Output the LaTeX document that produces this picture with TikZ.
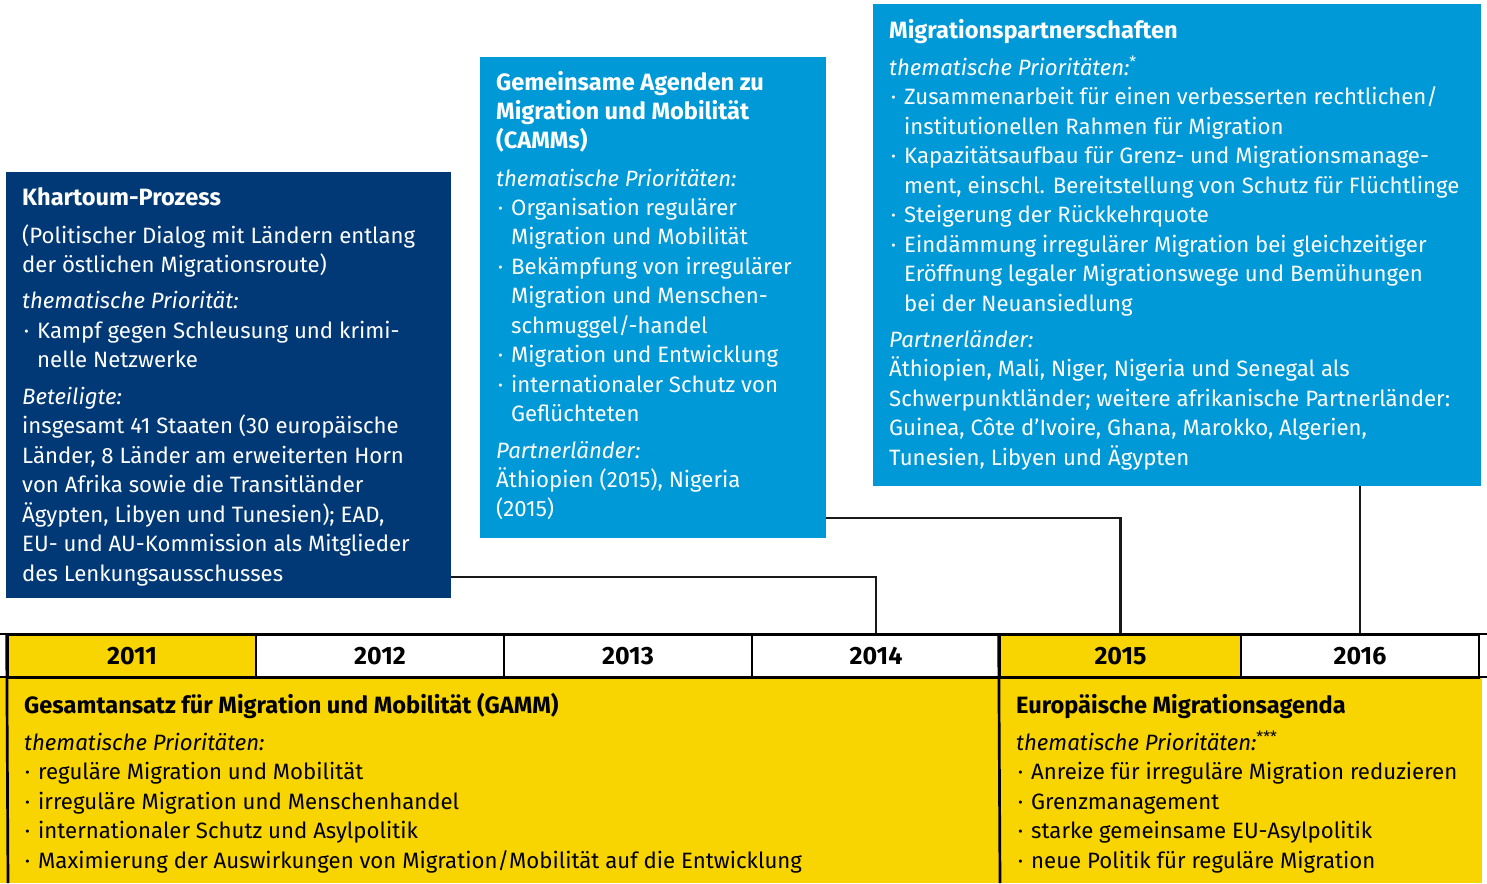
\documentclass[tikz,border=0pt]{standalone}
\usepackage{fontspec}
\setmainfont{Fira Sans}
\definecolor{dblue}{RGB}{0,57,118}
\definecolor{lblue}{RGB}{0,153,216}
\definecolor{gyellow}{RGB}{248,212,0}
\newcommand\bul{\makebox[0pt][r]{·\hspace{8pt}}}
\newcommand\regf{\fontsize{22.2}{26}\selectfont}
\newcommand\boldf{\fontsize{23.6}{28}\selectfont\bfseries}
\tikzset{
  panel/.style={anchor=north west, inner sep=0pt, outer sep=0pt},
  tw/.style={anchor=base west, inner sep=0pt, text=white, font=\regf},
  tb/.style={anchor=base west, inner sep=0pt, text=black, font=\regf},
  hd/.style={font=\boldf},
  it/.style={font=\regf\itshape},
  cell/.style={draw=black, line width=2.7pt, minimum width=248pt, minimum height=43pt, inner sep=0pt, font=\fontsize{25}{28}\selectfont\bfseries, text=black},
  conn/.style={draw=black!90, line width=2.6pt},
  tline/.style={draw=black, line width=2.7pt},
}
\begin{document}
\begin{tikzpicture}[x=1pt,y=-1pt]
\useasboundingbox (0,0) rectangle (1487,883);
% panels
\node[panel, fill=dblue, minimum width=445pt, minimum height=426pt] (khart) at (6,172) {};
\node[panel, fill=lblue, minimum width=346pt, minimum height=481pt] (camm) at (480,57) {};
\node[panel, fill=lblue, minimum width=608pt, minimum height=482pt] (mp) at (873,4) {};
\node[panel, fill=gyellow, minimum width=1000pt, minimum height=206pt] (gamm) at (0,677) {};
\node[panel, fill=gyellow, minimum width=482pt, minimum height=206pt] (eur) at (1000,677) {};
% year cells
\node[cell, fill=gyellow, minimum width=248pt] (c2011) at (132,656) {2011};
\node[cell, fill=white] (c2012) at (380,656) {2012};
\node[cell, fill=white] (c2013) at (628,656) {2013};
\node[cell, fill=white] (c2014) at (876,656) {2014};
\node[cell, fill=gyellow, minimum width=241pt] (c2015) at (1120.5,656) {2015};
\node[cell, fill=white, minimum width=238pt] (c2016) at (1360,656) {2016};
\draw[tline] (0,634) -- (1487,634);
\draw[tline] (0,677) -- (1487,677);
\draw[tline] (c2011.north west) -- (8,883);
\draw[tline] (c2015.north west) -- (1000,883);
% connectors
\draw[conn] (khart.south east) ++(0,-21) -| (c2014.north);
\draw[conn] (camm.south east) ++(0,-20) -| (c2015.north);
\draw[conn] (c2016.north |- mp.south) -- (c2016.north);
% Khartoum text
\node[tw, hd] (k1) at (22,205) {Khartoum-Prozess};
\node[tw] (k2) at (22,243) {(Politischer Dialog mit Ländern entlang};
\node[tw] (k3) at (22,272.5) {der östlichen Migrationsroute)};
\node[tw, it] (k4) at (22,308) {thematische Priorität:};
\node[tw] (k5) at (37,338) {\bul Kampf gegen Schleusung und krimi-};
\node[tw] (k6) at (37,367.5) {nelle Netzwerke};
\node[tw, it] (k7) at (22,404) {Beteiligte:};
\node[tw] (k8) at (22,433.5) {insgesamt 41 Staaten (30 europäische};
\node[tw] (k9) at (22,463) {Länder, 8 Länder am erweiterten Horn};
\node[tw] (k10) at (22,492.5) {von Afrika sowie die Transitländer};
\node[tw] (k11) at (22,522) {Ägypten, Libyen und Tunesien); EAD,};
\node[tw] (k12) at (22,551.5) {EU- und AU-Kommission als Mitglieder};
\node[tw] (k13) at (22,581) {des Lenkungsausschusses};
% CAMM text
\node[tw, hd] (a1) at (496,90) {Gemeinsame Agenden zu};
\node[tw, hd] (a2) at (496,119) {Migration und Mobilität};
\node[tw, hd] (a3) at (496,148) {(CAMMs)};
\node[tw, it] (a4) at (496,186) {thematische Prioritäten:};
\node[tw] (a5) at (511,215) {\bul Organisation regulärer};
\node[tw] (a6) at (511,244.5) {Migration und Mobilität};
\node[tw] (a7) at (511,274) {\bul Bekämpfung von irregulärer};
\node[tw] (a8) at (511,303.5) {Migration und Menschen-};
\node[tw] (a9) at (511,333) {schmuggel/-handel};
\node[tw] (a10) at (511,362.5) {\bul Migration und Entwicklung};
\node[tw] (a11) at (511,392) {\bul internationaler Schutz von};
\node[tw] (a12) at (511,421.5) {Geflüchteten};
\node[tw, it] (a13) at (496,458) {Partnerländer:};
\node[tw] (a14) at (496,487) {Äthiopien (2015), Nigeria};
\node[tw] (a15) at (496,516.5) {(2015)};
% MP text
\node[tw, hd] (m1) at (889,38) {Migrationspartnerschaften};
\node[tw, it] (m2) at (889,75) {thematische Prioritäten:\textsuperscript{\upshape *}};
\node[tw] (m3) at (904,104.5) {\bul Zusammenarbeit für einen verbesserten rechtlichen/};
\node[tw] (m4) at (904,134) {institutionellen Rahmen für Migration};
\node[tw] (m5) at (904,163.5) {\bul Kapazitätsaufbau für Grenz- und Migrationsmanage-};
\node[tw] (m6) at (904,193) {ment, einschl. Bereitstellung von Schutz für Flüchtlinge};
\node[tw] (m7) at (904,222.5) {\bul Steigerung der Rückkehrquote};
\node[tw] (m8) at (904,252) {\bul Eindämmung irregulärer Migration bei gleichzeitiger};
\node[tw] (m9) at (904,281.5) {Eröffnung legaler Migrationswege und Bemühungen};
\node[tw] (m10) at (904,311) {bei der Neuansiedlung};
\node[tw, it] (m11) at (889,347) {Partnerländer:};
\node[tw] (m12) at (889,376.5) {Äthiopien, Mali, Niger, Nigeria und Senegal als};
\node[tw] (m13) at (889,406) {Schwerpunktländer; weitere afrikanische Partnerländer:};
\node[tw] (m14) at (889,435.5) {Guinea, Côte d’Ivoire, Ghana, Marokko, Algerien,};
\node[tw] (m15) at (889,465) {Tunesien, Libyen und Ägypten};
% GAMM text
\node[tb, hd] (g1) at (24,713.5) {Gesamtansatz für Migration und Mobilität (GAMM)};
\node[tb, it] (g2) at (24,750) {thematische Prioritäten:};
\node[tb] (g3) at (38,779.5) {\bul reguläre Migration und Mobilität};
\node[tb] (g4) at (38,809) {\bul irreguläre Migration und Menschenhandel};
\node[tb] (g5) at (38,838.5) {\bul internationaler Schutz und Asylpolitik};
\node[tb] (g6) at (38,868) {\bul Maximierung der Auswirkungen von Migration/Mobilität auf die Entwicklung};
% Europe text
\node[tb, hd] (e1) at (1016,713.5) {Europäische Migrationsagenda};
\node[tb, it] (e2) at (1016,750) {thematische Prioritäten:\textsuperscript{\upshape ***}};
\node[tb] (e3) at (1031,779.5) {\bul Anreize für irreguläre Migration reduzieren};
\node[tb] (e4) at (1031,809) {\bul Grenzmanagement};
\node[tb] (e5) at (1031,838.5) {\bul starke gemeinsame EU-Asylpolitik};
\node[tb] (e6) at (1031,868) {\bul neue Politik für reguläre Migration};
\end{tikzpicture}
\end{document}
